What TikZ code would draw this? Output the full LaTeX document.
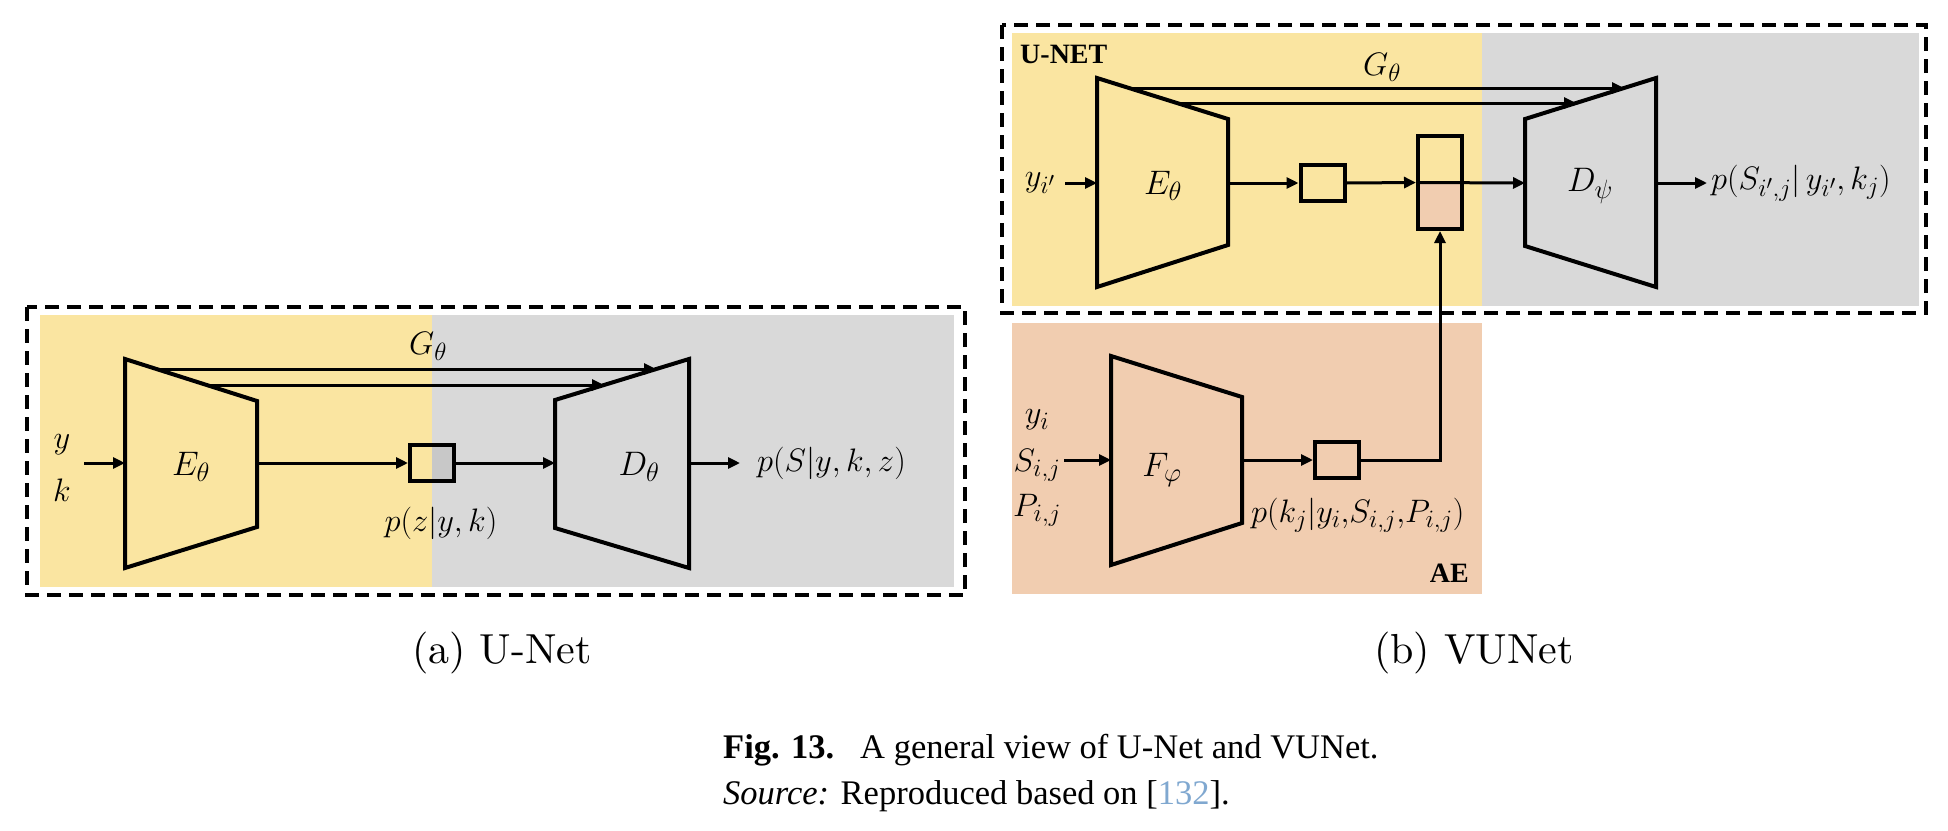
\RequirePackage{fix-cm}
\documentclass[tikz,border=0pt]{standalone}
\usepackage{fontspec}
\newfontfamily\capfont{Liberation Serif}
\usetikzlibrary{arrows.meta}
\DeclareMathSizes{32.5}{32.5}{25}{20}
\DeclareMathSizes{34}{34}{26.5}{21}
\definecolor{ybg}{RGB}{250,229,161}
\definecolor{gbg}{RGB}{217,217,217}
\definecolor{gbox}{RGB}{200,200,200}
\definecolor{aebg}{RGB}{241,205,176}
\definecolor{linkblue}{RGB}{128,168,208}
\tikzset{
  trap/.style={draw=black, line width=4pt, line join=miter},
  conn/.style={line width=3pt, -{Triangle[length=12pt,width=11pt]}},
  lbl/.style={inner sep=0pt, font=\fontsize{32.5}{38}\selectfont},
  biglbl/.style={inner sep=0pt, font=\fontsize{34}{40}\selectfont},
  boxn/.style={draw=black, line width=4pt, inner sep=0pt, minimum width=44pt, minimum height=36pt},
  frame/.style={draw=black, line width=3.5pt, dash pattern=on 14pt off 8pt},
  boldlbl/.style={inner sep=0pt, font=\capfont\bfseries\fontsize{28}{32}\selectfont},
  sublbl/.style={inner sep=0pt, scale=4.2, font=\fontsize{10}{12}\selectfont},
  caplbl/.style={inner sep=0pt, font=\capfont\fontsize{34.5}{40}\selectfont},
}
\begin{document}
\begin{tikzpicture}[x=1pt,y=-1pt]
\useasboundingbox[fill=white] (0,0) rectangle (1948,830);

% ================= (a) U-Net =================
\fill[ybg] (40,315) rectangle (432,587);
\fill[gbg] (432,315) rectangle (954,587);
\draw[frame] (27,307) rectangle (965,595);

\coordinate (LE1) at (125,359); \coordinate (LE2) at (257,401);
\coordinate (LE3) at (257,527); \coordinate (LE4) at (125,568);
\draw[trap] (LE1)--(LE2)--(LE3)--(LE4)--cycle;
\coordinate (LD1) at (555,400); \coordinate (LD2) at (689,359);
\coordinate (LD3) at (689,568); \coordinate (LD4) at (555,528);
\draw[trap] (LD1)--(LD2)--(LD3)--(LD4)--cycle;

\coordinate (LEin) at (125,463); \coordinate (LEout) at (257,463);
\coordinate (LDin) at (555,463); \coordinate (LDout) at (689,463);
\coordinate (Lyin) at (84,463); \coordinate (Lout) at (740,463);

\node[lbl] (Ly) at (62,445) {$y$};
\node[lbl] (Lk) at (62,490) {$k$};
\node[biglbl] (LElbl) at (191,467) {$E_\theta$};
\node[biglbl] (LDlbl) at (639,467) {$D_\theta$};
\node[lbl] (LG) at (428,346) {$G_\theta$};
\node[boxn, path picture={\fill[gbox] (path picture bounding box.north) rectangle (path picture bounding box.south east);}] (Lz) at (432,463) {};
\node[lbl] (Lzlbl) at (441,523) {$p(z|y,k)$};
\node[lbl, anchor=west] (LSlbl) at (757,463) {$p(S|y,k,z)$};

\draw[conn] (Lyin) -- (LEin);
\draw[conn] (LEout) -- (Lz.west);
\draw[conn] (Lz.east) -- (LDin);
\draw[conn] (LDout) -- (Lout);
\coordinate (Ls1a) at (156,369); \coordinate (Ls1b) at (656,369);
\coordinate (Ls2a) at (207,385); \coordinate (Ls2b) at (604,385);
\draw[conn] (Ls1a) -- (Ls1b);
\draw[conn] (Ls2a) -- (Ls2b);

% ================= (b) VUNet =================
\fill[ybg] (1012,33) rectangle (1482,306);
\fill[gbg] (1482,33) rectangle (1919,306);
\fill[aebg] (1012,323) rectangle (1482,594);
\draw[frame] (1002,25) rectangle (1926,313);

\node[boldlbl, anchor=base west] (unet) at (1020,63) {U-NET};
\node[boldlbl, anchor=base east] (ae) at (1469,582) {AE};

\coordinate (RE1) at (1097,78); \coordinate (RE2) at (1228,119);
\coordinate (RE3) at (1228,245); \coordinate (RE4) at (1097,287);
\draw[trap] (RE1)--(RE2)--(RE3)--(RE4)--cycle;
\coordinate (RD1) at (1525,119); \coordinate (RD2) at (1656,78);
\coordinate (RD3) at (1656,287); \coordinate (RD4) at (1525,246);
\draw[trap] (RD1)--(RD2)--(RD3)--(RD4)--cycle;
\coordinate (RF1) at (1111,356); \coordinate (RF2) at (1242,397);
\coordinate (RF3) at (1242,523); \coordinate (RF4) at (1111,565);
\draw[trap] (RF1)--(RF2)--(RF3)--(RF4)--cycle;

\coordinate (REin) at (1097,183); \coordinate (REout) at (1228,183);
\coordinate (RDin) at (1525,183); \coordinate (RDout) at (1656,183);
\coordinate (Ryin) at (1065,183); \coordinate (Rout) at (1707,183);
\coordinate (RFin) at (1111,460); \coordinate (RFout) at (1242,460);
\coordinate (Rfin) at (1064,460);
\coordinate (Rturn) at (1440,460);

\node[lbl] (Ry) at (1040,183) {$y_{i'}$};
\node[biglbl] (RElbl) at (1163,186) {$E_\theta$};
\node[biglbl] (RDlbl) at (1590,186) {$D_\psi$};
\node[lbl] (RG) at (1382,67) {$G_\theta$};
\node[biglbl] (RFlbl) at (1162,470) {$F_\varphi$};
\node[lbl, anchor=west] (RSlbl) at (1711,183) {$p(S_{i',j}|\,y_{i'},k_j)$};
\node[lbl] (Ryi) at (1037,420) {$y_i$};
\node[lbl] (RSij) at (1037,465) {$S_{i,j}$};
\node[lbl] (RPij) at (1037,510) {$P_{i,j}$};
\node[lbl, anchor=west] (Rklbl) at (1251,515) {$p(k_j|y_i{,}S_{i,j}{,}P_{i,j})$};

\node[boxn] (Rb1) at (1322.5,183) {};
\node[boxn, minimum height=93pt, path picture={\fill[aebg] (path picture bounding box.west) rectangle (path picture bounding box.south east);}] (Rb2) at (1440,182.5) {};
\node[boxn] (Rb3) at (1337,460) {};

\draw[conn] (Ryin) -- (REin);
\draw[conn] (REout) -- (Rb1.west);
\draw[conn] (Rb1.east) -- (Rb2.west);
\draw[conn] (Rb2.west) -- (RDin);
\draw[conn] (RDout) -- (Rout);
\draw[conn] (Rfin) -- (RFin);
\draw[conn] (RFout) -- (Rb3.west);
\draw[conn] (Rb3.east) -- (Rturn) -- (Rb2.south);
\coordinate (Rs1a) at (1129,88); \coordinate (Rs1b) at (1624,88);
\coordinate (Rs2a) at (1177,103); \coordinate (Rs2b) at (1576,103);
\draw[conn] (Rs1a) -- (Rs1b);
\draw[conn] (Rs2a) -- (Rs2b);

% ================= captions =================
\node[sublbl, anchor=base] (suba) at (502,663) {(a)\ U-Net};
\node[sublbl, anchor=base] (subb) at (1474,663) {(b)\ VUNet};
\node[caplbl, anchor=base west] (cap1) at (723,758) {\textbf{Fig. 13.}\hspace{0.75em}A general view of U-Net and VUNet.};
\node[caplbl, anchor=base west] (cap2) at (723,804) {\textit{Source:} Reproduced based on [{\color{linkblue}132}].};
\end{tikzpicture}
\end{document}
